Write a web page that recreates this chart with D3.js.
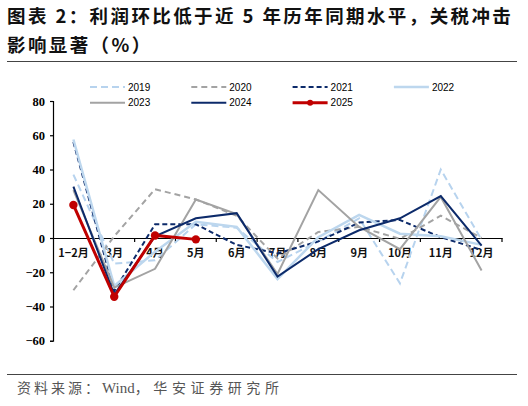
<!DOCTYPE html>
<html>
<head>
<meta charset="utf-8">
<script src="https://cdn.jsdelivr.net/npm/d3@7"></script>
<style>
  body { margin: 0; background: #fff; }
  svg { display: block; }
</style>
</head>
<body>
<div class="canvas"></div>
<script>
// categories and series
const months = ['1−2月', '3月', '4月', '5月', '6月', '7月', '8月', '9月', '10月', '11月', '12月'];
const yTicks = [-60, -40, -20, 0, 20, 40, 60, 80];
const v2019 = [37, -15, -13, 8, 6, -14, -2, 11.5, -26.5, 40, -1];
const v2020 = [-30.5, 1, 28.5, 22.5, 13, -12, 3.5, 6.5, -0.5, 13, 0];
const v2021 = [56, -31, 8, 8, -4, -9, -2, 9, 10.5, 0.5, -7];
const v2022 = [57.5, -28, -8, 9.5, 6.5, -24, 0.5, 13.5, 2.5, 1, -4];
const v2023 = [28, -29, -18, 22.5, 14, -21, 28, 6.5, -6.5, 24, -19];
const v2024 = [30, -33, 1, 11.5, 14.5, -22.5, -6.5, 4.5, 11.5, 24.5, -4.5];
const v2025 = [19.3, -34.3, 1.5, -0.8];

const series = [
  {name: '2019', values: v2019, color: '#b7d3ee', width: 2, dash: '7,4'},
  {name: '2020', values: v2020, color: '#a3a3a3', width: 2, dash: '6,4'},
  {name: '2021', values: v2021, color: '#0c2a6a', width: 2, dash: '5,3'},
  {name: '2022', values: v2022, color: '#bdd7ee', width: 2.5, dash: null},
  {name: '2023', values: v2023, color: '#a3a3a3', width: 2, dash: null},
  {name: '2024', values: v2024, color: '#0c2a6a', width: 2, dash: null},
  {name: '2025', values: v2025, color: '#c00000', width: 3, dash: null, dots: true}
];

const W = 528, H = 406;
const svg = d3.select('.canvas')
  .append('svg')
  .attr('width', W)
  .attr('height', H);

// title
const title = svg.append('g')
  .attr('font-family', '"Noto Sans CJK SC", sans-serif')
  .attr('font-weight', 'bold')
  .attr('font-size', 18.5)
  .attr('fill', '#111');
title.append('text').attr('x', 7).attr('y', 23).attr('letter-spacing', 2.4)
  .text('图表 2：利润环比低于近 5 年历年同期水平，关税冲击');
title.append('text').attr('x', 7).attr('y', 52).attr('letter-spacing', 2.4)
  .text('影响显著（%）');

svg.append('line').attr('x1', 7).attr('x2', 517).attr('y1', 61.5).attr('y2', 61.5)
  .attr('stroke', '#444').attr('stroke-width', 1.2);

// scales
const x = d3.scaleBand().domain(months).range([53, 502]);
const y = d3.scaleLinear().domain([-60, 80]).range([340.75, 101]);
const cx = d => x(d) + x.bandwidth() / 2;

// y axis
const yAxisGroup = svg.append('g').attr('transform', 'translate(53,0)');
yAxisGroup.call(d3.axisLeft(y).tickValues(yTicks).tickSize(3).tickFormat(d3.format('d')));
yAxisGroup.selectAll('.domain').attr('stroke', '#000').attr('stroke-width', 1.2);
yAxisGroup.selectAll('.tick line').attr('stroke', '#000').attr('stroke-width', 1.2);
yAxisGroup.selectAll('.tick text')
  .attr('x', -8)
  .attr('font-family', '"Liberation Serif", "Times New Roman", serif')
  .attr('font-weight', 'bold')
  .attr('font-size', 12.5)
  .attr('fill', '#000');

// x axis on zero line
const xAxisGroup = svg.append('g').attr('transform', 'translate(0,' + y(0) + ')');
xAxisGroup.call(d3.axisBottom(x).tickSize(0).tickPadding(11));
xAxisGroup.selectAll('.domain').attr('stroke', '#000').attr('stroke-width', 1.2);
xAxisGroup.selectAll('.tick text')
  .attr('font-family', '"Noto Sans CJK SC", sans-serif')
  .attr('font-weight', 'bold')
  .attr('font-size', 11)
  .attr('fill', '#111');
// boundary ticks
xAxisGroup.selectAll('.bound')
  .data(months.slice(1).concat(['end']))
  .enter().append('line')
  .attr('x1', (d, i) => 53 + x.step() * (i + 1))
  .attr('x2', (d, i) => 53 + x.step() * (i + 1))
  .attr('y1', 0).attr('y2', 4)
  .attr('stroke', '#000').attr('stroke-width', 1.2);

// lines
const line = d3.line()
  .x((d, i) => cx(months[i]))
  .y(d => y(d));

const plot = svg.append('g');
series.forEach(s => {
  plot.append('path')
    .datum(s.values)
    .attr('d', line)
    .attr('fill', 'none')
    .attr('stroke', s.color)
    .attr('stroke-width', s.width)
    .attr('stroke-dasharray', s.dash)
    .attr('stroke-linejoin', 'miter');
  if (s.dots) {
    plot.selectAll('.dot' + s.name)
      .data(s.values)
      .enter().append('circle')
      .attr('cx', (d, i) => cx(months[i]))
      .attr('cy', d => y(d))
      .attr('r', 4.2)
      .attr('fill', s.color);
  }
});

// legend
const legend = svg.append('g')
  .attr('font-family', '"Liberation Sans", Arial, sans-serif')
  .attr('font-size', 10)
  .attr('fill', '#000');
series.forEach((s, i) => {
  const col = i % 4, row = Math.floor(i / 4);
  const lx = 90 + col * 101.3, ly = 87 + row * 15.7;
  legend.append('line')
    .attr('x1', lx).attr('x2', lx + 35)
    .attr('y1', ly).attr('y2', ly)
    .attr('stroke', s.color)
    .attr('stroke-width', s.dots ? 3 : s.width)
    .attr('stroke-dasharray', s.dash);
  if (s.dots) {
    legend.append('circle').attr('cx', lx + 17.5).attr('cy', ly).attr('r', 3).attr('fill', s.color);
  }
  legend.append('text')
    .attr('x', lx + 38).attr('y', ly + 3.5)
    .text(s.name);
});

// footer
svg.append('line').attr('x1', 7).attr('x2', 517).attr('y1', 374.5).attr('y2', 374.5)
  .attr('stroke', '#444').attr('stroke-width', 1.2);
const foot = svg.append('text')
  .attr('x', 17).attr('y', 393)
  .attr('font-family', '"Noto Sans CJK SC", sans-serif')
  .attr('font-size', 14)
  .attr('fill', '#555');
foot.append('tspan').attr('letter-spacing', 3).text('资料来源：');
foot.append('tspan')
  .attr('font-family', '"Liberation Serif", "Times New Roman", serif')
  .attr('font-size', 15)
  .text('Wind');
foot.append('tspan').attr('letter-spacing', 4.6).text('，华安证券研究所');
</script>
</body>
</html>
